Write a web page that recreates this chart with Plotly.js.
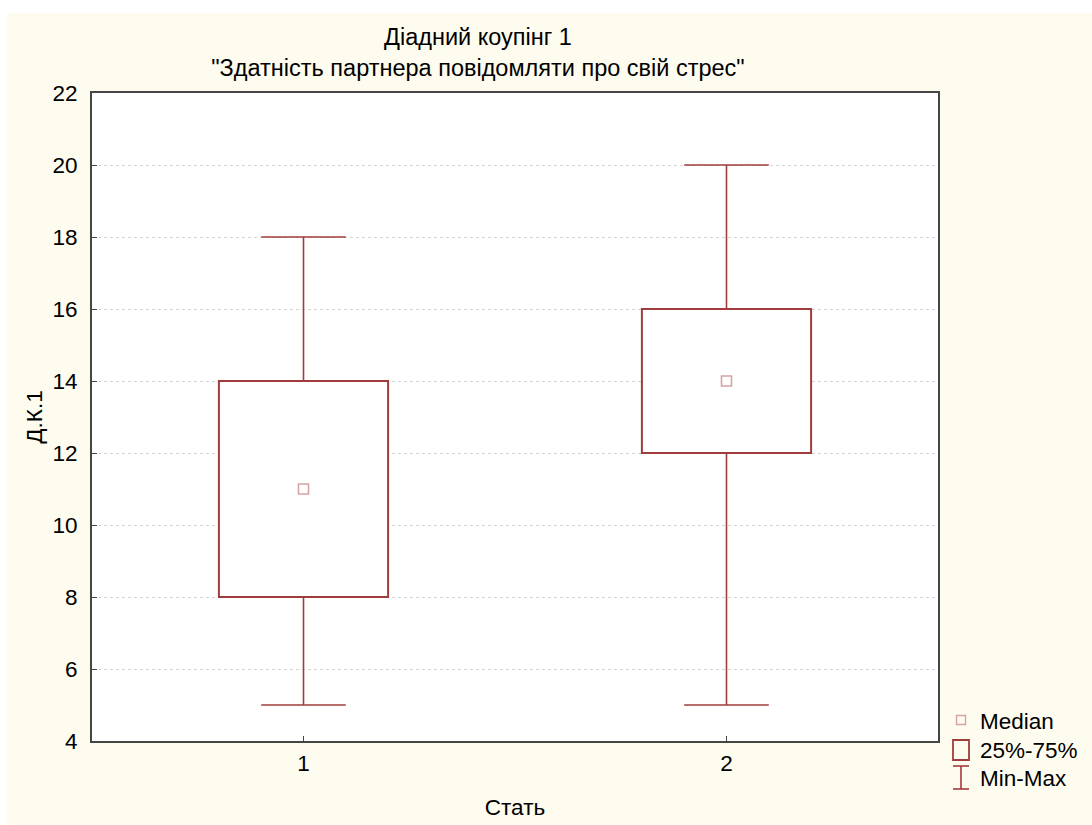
<!DOCTYPE html>
<html>
<head>
<meta charset="utf-8">
<script src="https://cdn.plot.ly/plotly-3.0.1.min.js"></script>
<style>
html, body { margin:0; padding:0; background:#ffffff; width:1092px; height:825px; overflow:hidden; }
#chart { position:absolute; left:7px; top:13px; width:1085px; height:812px; }
</style>
</head>
<body>
<div id="chart"></div>
<script>
// Data
const categories = [1, 2];
const tickLabels = ['1', '2'];
const minVals = [5, 5];
const q1Vals = [8, 12];
const medianVals = [11, 14];
const q3Vals = [14, 16];
const maxVals = [18, 20];
const legendLabels = ['Median', '25%-75%', 'Min-Max'];

const boxColor = '#a03c3c';
const medColor = '#d6a4a4';
const FONT = 'Liberation Sans, Arial, sans-serif';
const FS = 22.5;
const BOXW = 0.4, CAP = 0.1;

// Whisker paths built from the data
const wx = [], wy = [];
categories.forEach((c, i) => {
  wx.push(c, c, null, c - CAP, c + CAP, null, c, c, null, c - CAP, c + CAP, null);
  wy.push(q3Vals[i], maxVals[i], null, maxVals[i], maxVals[i], null,
          q1Vals[i], minVals[i], null, minVals[i], minVals[i], null);
});

const traces = [
  {
    type: 'scatter', mode: 'lines', x: wx, y: wy,
    line: { color: boxColor, width: 1.6 }, hoverinfo: 'skip', showlegend: false
  },
  {
    type: 'bar', x: categories, base: q1Vals,
    y: q3Vals.map((v, i) => v - q1Vals[i]), width: BOXW,
    marker: { color: '#ffffff', line: { color: boxColor, width: 2 } },
    showlegend: false
  },
  {
    type: 'scatter', mode: 'markers', x: categories, y: medianVals,
    marker: { symbol: 'square-open', size: 10, color: medColor, line: { width: 1.6, color: medColor } },
    showlegend: false
  }
];

// plot area in page px: x 92..938, y 93..741
const px = p => (p - 92) / 846;
const py = p => (741 - p) / 648;

const shapes = [
  { type: 'rect', xref: 'paper', yref: 'paper', xsizemode: 'pixel', ysizemode: 'pixel',
    xanchor: px(961), yanchor: py(720), x0: -4.5, x1: 4.5, y0: -4.5, y1: 4.5,
    line: { color: medColor, width: 1.4 }, fillcolor: 'rgba(0,0,0,0)' },
  { type: 'rect', xref: 'paper', yref: 'paper', xsizemode: 'pixel', ysizemode: 'pixel',
    xanchor: px(961), yanchor: py(750), x0: -8, x1: 8, y0: -10, y1: 10,
    line: { color: boxColor, width: 1.8 }, fillcolor: 'rgba(0,0,0,0)' },
  { type: 'line', xref: 'paper', yref: 'paper', xsizemode: 'pixel', ysizemode: 'pixel',
    xanchor: px(961), yanchor: py(777.5), x0: 0, x1: 0, y0: -11.5, y1: 11.5,
    line: { color: boxColor, width: 1.6 } },
  { type: 'line', xref: 'paper', yref: 'paper', xsizemode: 'pixel', ysizemode: 'pixel',
    xanchor: px(961), yanchor: py(777.5), x0: -8, x1: 8, y0: 11.5, y1: 11.5,
    line: { color: boxColor, width: 1.6 } },
  { type: 'line', xref: 'paper', yref: 'paper', xsizemode: 'pixel', ysizemode: 'pixel',
    xanchor: px(961), yanchor: py(777.5), x0: -8, x1: 8, y0: -11.5, y1: -11.5,
    line: { color: boxColor, width: 1.6 } }
];

const legendY = [py(721), py(750), py(778)];
const annotations = legendLabels.map((t, i) => ({
  text: t, xref: 'paper', yref: 'paper', x: px(978), y: legendY[i],
  xanchor: 'left', yanchor: 'middle', showarrow: false,
  font: { family: FONT, size: FS, color: '#000' }
}));

const layout = {
  width: 1085, height: 812,
  paper_bgcolor: '#fefbef', plot_bgcolor: '#ffffff',
  margin: { l: 85, r: 154, t: 80, b: 84 },
  barmode: 'overlay',
  showlegend: false,
  title: {
    text: 'Діадний коупінг 1<br>"Здатність партнера повідомляти про свій стрес"',
    xref: 'paper', x: px(478), xanchor: 'center',
    yref: 'container', y: 1 - 32 / 812, yanchor: 'middle',
    font: { family: FONT, size: 23.5, color: '#000' }
  },
  xaxis: {
    range: [0.5, 2.5], tickvals: categories, ticktext: tickLabels,
    showgrid: false, zeroline: false,
    showline: true, mirror: true, linecolor: '#454545', linewidth: 2,
    ticks: 'inside', ticklen: 5, tickcolor: '#454545',
    tickfont: { family: FONT, size: FS, color: '#000' },
    ticklabelstandoff: 1,
    title: { text: 'Стать', font: { family: FONT, size: FS, color: '#000' }, standoff: 24 }
  },
  yaxis: {
    range: [4, 22], dtick: 2, tick0: 4,
    showgrid: true, gridcolor: '#d4d4d4', griddash: 'dot', gridwidth: 1,
    zeroline: false,
    showline: true, mirror: true, linecolor: '#454545', linewidth: 2,
    ticks: 'inside', ticklen: 5, tickcolor: '#454545',
    tickfont: { family: FONT, size: FS, color: '#000' },
    ticklabelstandoff: 8,
    title: { text: 'Д.К.1', font: { family: FONT, size: FS, color: '#000' }, standoff: 4 }
  },
  shapes: shapes,
  annotations: annotations
};

Plotly.newPlot('chart', traces, layout, { displayModeBar: false, staticPlot: true });
</script>
</body>
</html>
